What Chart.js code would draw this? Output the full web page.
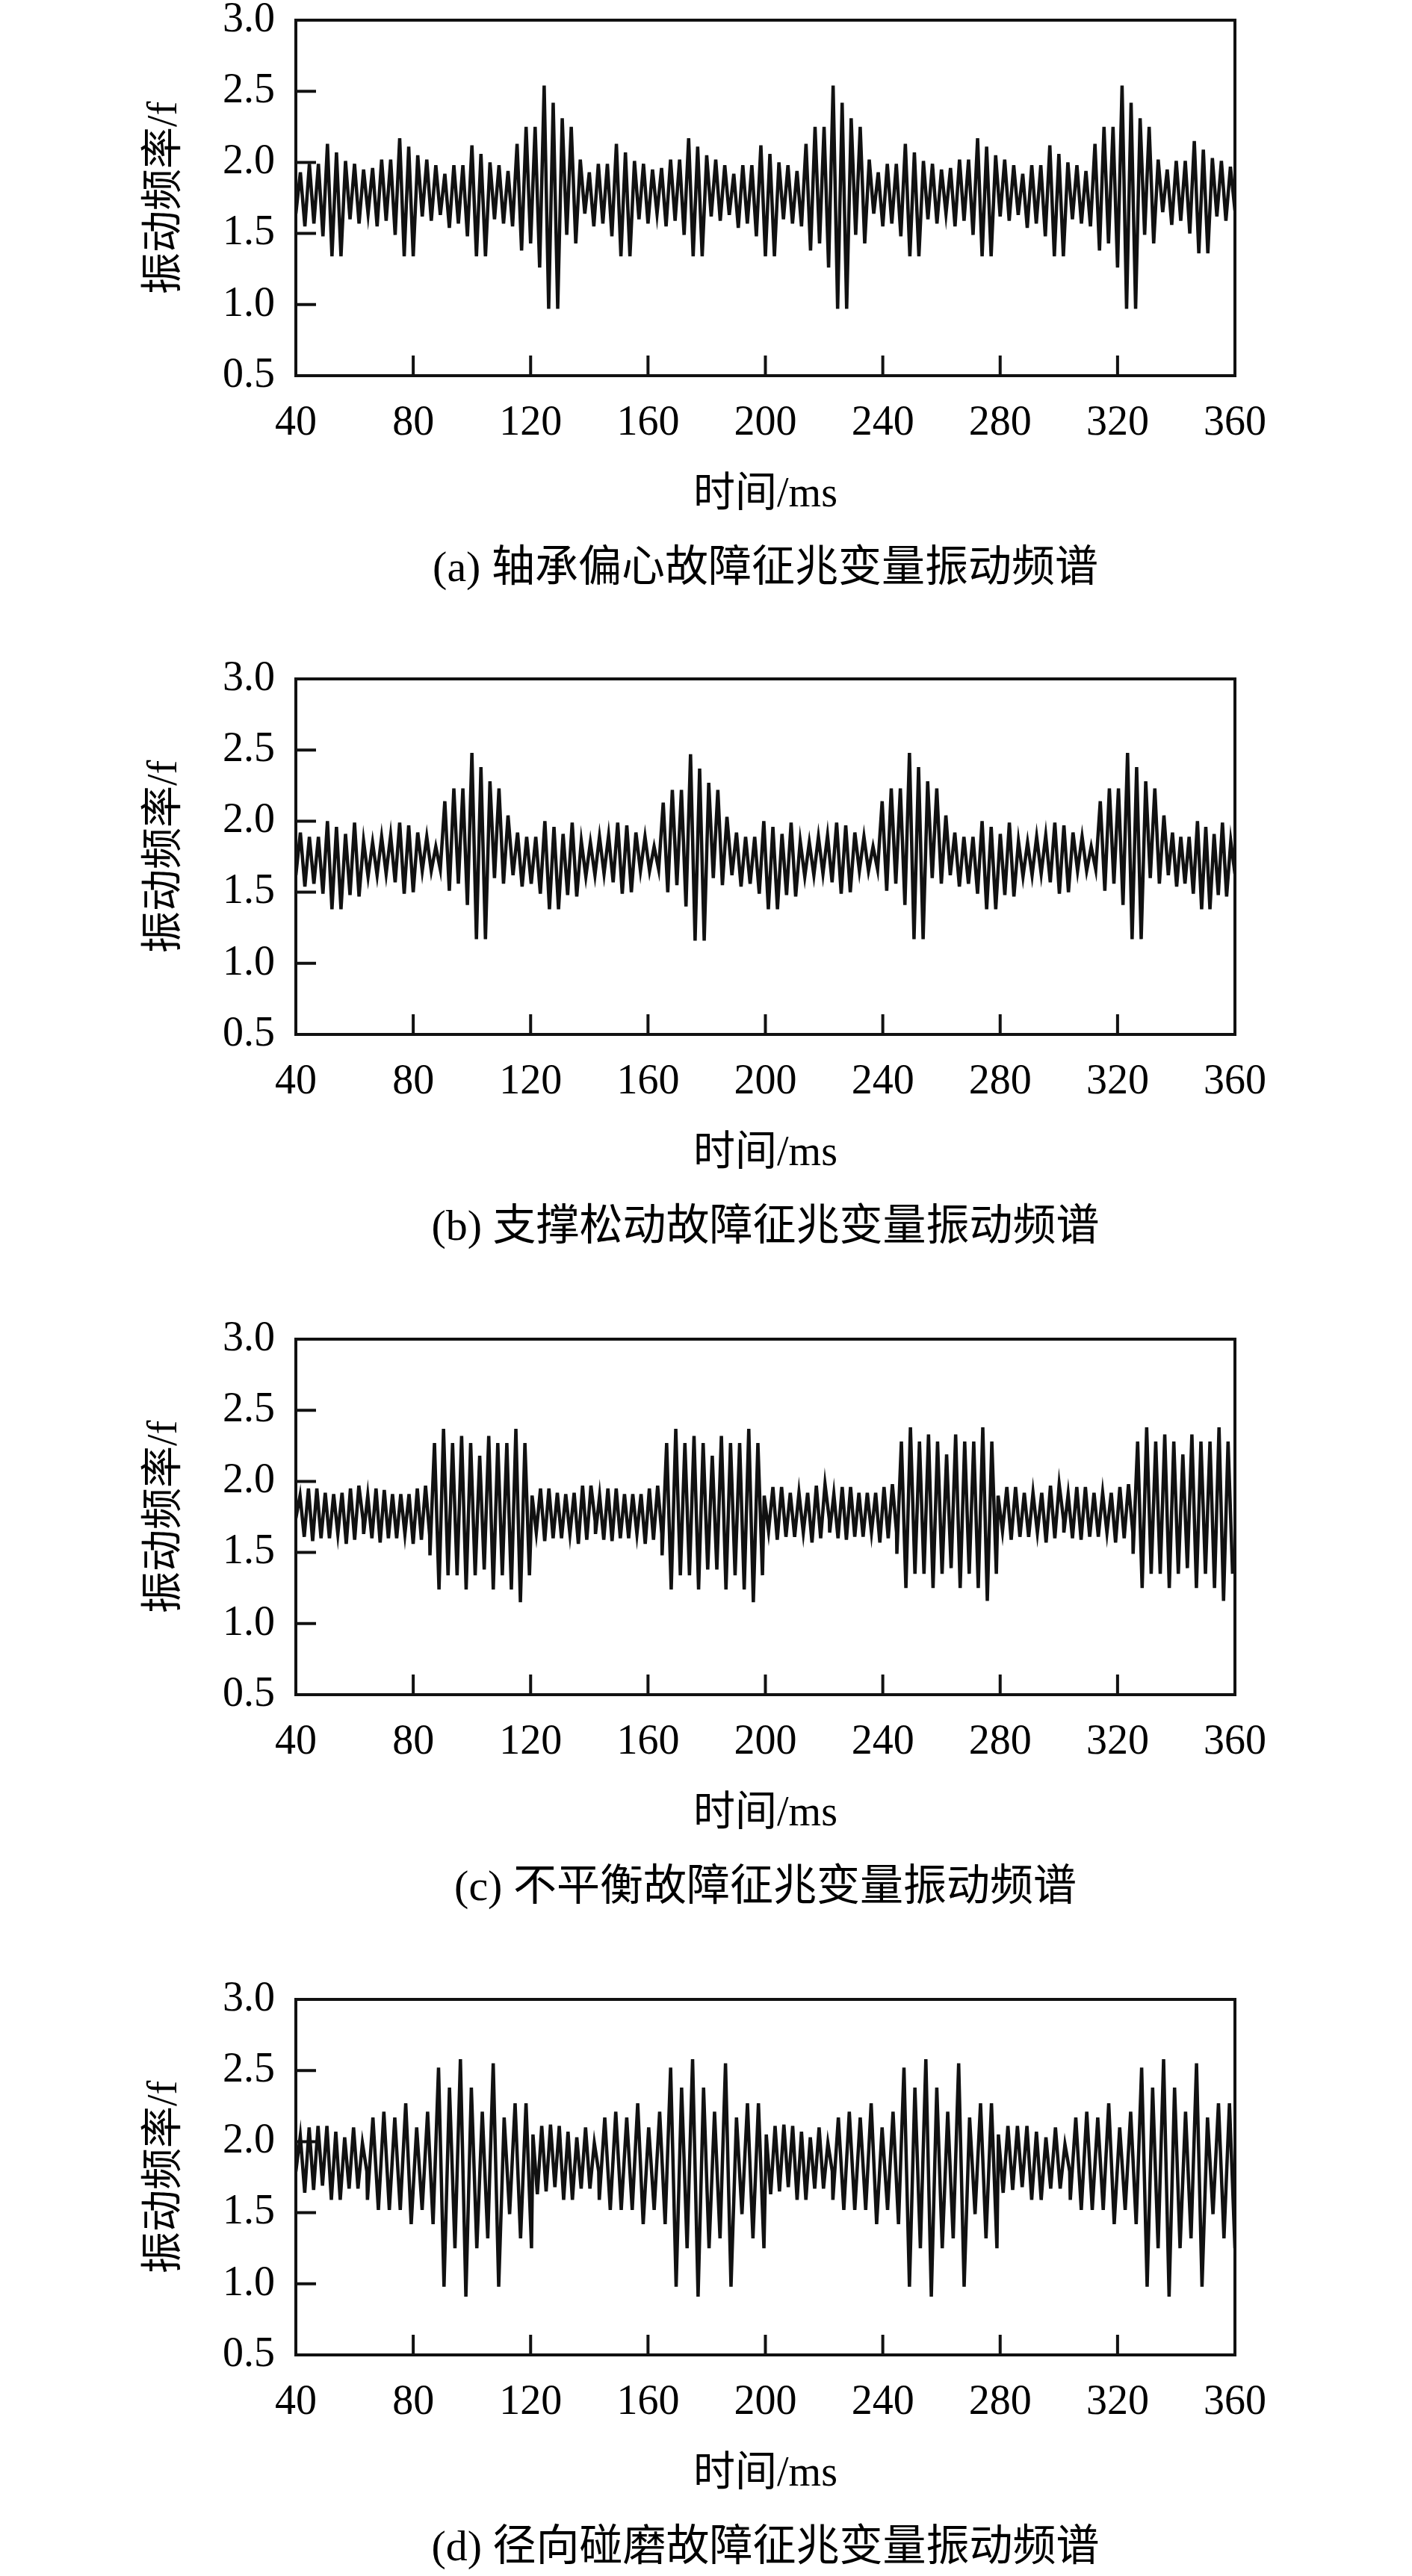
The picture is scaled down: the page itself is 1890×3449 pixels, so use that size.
<!DOCTYPE html>
<html lang="zh">
<head>
<meta charset="utf-8">
<title>故障征兆变量振动频谱</title>
<script src="https://cdn.jsdelivr.net/npm/chart.js@4.4.1/dist/chart.umd.min.js"></script>
<style>
  html, body { margin: 0; padding: 0; background: #fff; }
  body { width: 1890px; height: 3449px; position: relative; overflow: hidden; }
  .panel { position: absolute; left: 0; width: 1890px; height: 800px; }
  .panel canvas { display: block; }
</style>
</head>
<body>
<div class="panel" style="top:0px"><canvas id="chartA" width="1890" height="800"></canvas></div>
<div class="panel" style="top:882px"><canvas id="chartB" width="1890" height="800"></canvas></div>
<div class="panel" style="top:1766px"><canvas id="chartC" width="1890" height="800"></canvas></div>
<div class="panel" style="top:2650px"><canvas id="chartD" width="1890" height="800"></canvas></div>
<script>
"use strict";

// 目盛り
const xTicks = [40, 80, 120, 160, 200, 240, 280, 320, 360];
const yTicks = [0.5, 1.0, 1.5, 2.0, 2.5, 3.0];
const xTitle = '时间/ms';
const yTitle = '振动频率/f';
const captions = [
    '(a) 轴承偏心故障征兆变量振动频谱',
    '(b) 支撑松动故障征兆变量振动频谱',
    '(c) 不平衡故障征兆变量振动频谱',
    '(d) 径向碰磨故障征兆变量振动频谱'
];

// (a) 轴承偏心
const aVals = [
    1.64,1.93,1.55,1.99,1.57,1.99,1.48,2.13,1.34,2.07,1.34,2.01,1.60,1.99,1.57,1.95,
    1.64,1.96,1.55,2.02,1.59,2.02,1.49,2.17,1.34,2.11,1.34,2.05,1.62,2.02,1.59,1.98,
    1.63,1.92,1.54,1.98,1.57,1.98,1.48,2.12,1.34,2.06,1.34,2.00,1.60,1.98,1.57,1.94,
    1.55,2.13,1.38,2.25,1.43,2.25,1.26,2.54,0.97,2.42,0.97,2.31,1.49,2.25,1.43,2.02,
    1.64,1.93,1.55,1.99,1.57,1.99,1.48,2.13,1.34,2.07,1.34,2.01,1.60,1.99,1.57,1.95,
    1.64,1.96,1.55,2.02,1.59,2.02,1.49,2.17,1.34,2.11,1.34,2.05,1.62,2.02,1.59,1.98,
    1.63,1.92,1.54,1.98,1.57,1.98,1.48,2.12,1.34,2.06,1.34,2.00,1.60,1.98,1.57,1.94,
    1.55,2.13,1.38,2.25,1.43,2.25,1.26,2.54,0.97,2.42,0.97,2.31,1.49,2.25,1.43,2.02,
    1.64,1.93,1.55,1.99,1.57,1.99,1.48,2.13,1.34,2.07,1.34,2.01,1.60,1.99,1.57,1.95,
    1.64,1.96,1.55,2.02,1.59,2.02,1.49,2.17,1.34,2.11,1.34,2.05,1.62,2.02,1.59,1.98,
    1.63,1.92,1.54,1.98,1.57,1.98,1.48,2.12,1.34,2.06,1.34,2.00,1.60,1.98,1.57,1.94,
    1.55,2.13,1.38,2.25,1.43,2.25,1.26,2.54,0.97,2.42,0.97,2.31,1.49,2.25,1.43,2.02,
    1.65,1.95,1.56,2.01,1.59,2.01,1.50,2.15,1.36,2.09,1.36,2.03,1.62,2.01,1.59,1.97,1.66
];
const aSizes = [209];
const aSpans = [[40, 360]];

// (b) 支撑松动
const bVals = [
    1.62,1.92,1.54,1.89,1.56,1.89,1.49,2.00,1.38,1.96,1.38,1.91,1.48,1.99,1.47,1.86,
    1.61,1.85,1.62,1.89,1.63,1.90,1.57,1.99,1.49,1.97,1.50,1.92,1.65,1.89,1.65,1.82,
    1.66,2.14,1.51,2.23,1.56,2.23,1.41,2.48,1.17,2.38,1.17,2.28,1.60,2.23,1.56,2.04,
    1.62,1.92,1.54,1.89,1.56,1.89,1.49,2.00,1.38,1.96,1.38,1.91,1.48,1.99,1.47,1.86,
    1.61,1.85,1.62,1.89,1.63,1.90,1.57,1.99,1.49,1.97,1.50,1.92,1.65,1.89,1.65,1.82,
    1.66,2.13,1.50,2.22,1.55,2.22,1.40,2.47,1.16,2.37,1.16,2.27,1.60,2.22,1.55,2.03,
    1.62,1.92,1.54,1.89,1.56,1.89,1.49,2.00,1.38,1.96,1.38,1.91,1.48,1.99,1.47,1.86,
    1.61,1.85,1.62,1.89,1.63,1.90,1.57,1.99,1.49,1.97,1.50,1.92,1.65,1.89,1.65,1.82,
    1.66,2.14,1.51,2.23,1.56,2.23,1.41,2.48,1.17,2.38,1.17,2.28,1.60,2.23,1.56,2.04,
    1.62,1.92,1.54,1.89,1.56,1.89,1.49,2.00,1.38,1.96,1.38,1.91,1.48,1.99,1.47,1.86,
    1.61,1.85,1.62,1.89,1.63,1.90,1.57,1.99,1.49,1.97,1.50,1.92,1.65,1.89,1.65,1.82,
    1.66,2.14,1.51,2.23,1.56,2.23,1.41,2.48,1.17,2.38,1.17,2.28,1.60,2.23,1.56,2.04,
    1.62,1.92,1.54,1.89,1.56,1.89,1.49,2.00,1.38,1.96,1.38,1.91,1.48,1.99,1.47,1.86,1.63
];
const bSizes = [48, 48, 48, 48, 17];
const bSpans = [[40, 112.3], [114.0, 186.9], [188.6, 261.5], [263.0, 335.8], [337.3, 360]];

// (c) 不平衡
const cVals = [
    1.74,1.90,1.61,1.95,1.58,1.95,1.60,1.92,1.60,1.91,1.63,1.92,1.56,1.95,1.59,1.97,1.73,
    1.63,1.90,1.60,1.95,1.57,1.94,1.60,1.91,1.60,1.91,1.63,1.91,1.56,1.95,1.59,1.97,1.62,
    1.48,2.27,1.24,2.37,1.34,2.27,1.34,2.32,1.24,2.27,1.34,2.18,1.38,2.32,1.24,2.27,1.34,2.27,1.24,2.37,1.15,2.27,1.34,
    1.90,1.64,1.95,1.58,1.95,1.60,1.92,1.60,1.91,1.63,1.92,1.56,1.97,1.59,1.97,1.72,
    1.63,1.90,1.59,1.95,1.58,1.95,1.60,1.91,1.60,1.91,1.63,1.91,1.56,1.95,1.59,1.97,1.63,
    1.48,2.27,1.24,2.37,1.34,2.27,1.34,2.32,1.24,2.27,1.38,2.18,1.38,2.32,1.24,2.27,1.34,2.27,1.24,2.37,1.15,2.27,1.34,
    1.90,1.65,1.96,1.59,1.96,1.61,1.92,1.61,1.92,1.64,1.92,1.57,1.97,1.60,1.98,1.73,
    1.64,1.91,1.60,1.96,1.59,1.96,1.61,1.92,1.61,1.92,1.64,1.92,1.57,1.96,1.60,1.98,1.64,
    1.49,2.28,1.25,2.38,1.35,2.28,1.35,2.33,1.25,2.28,1.35,2.19,1.39,2.33,1.25,2.28,1.35,2.28,1.25,2.38,1.16,2.28,1.35,
    1.90,1.65,1.96,1.59,1.96,1.61,1.92,1.61,1.92,1.64,1.92,1.57,1.97,1.60,1.98,1.73,
    1.64,1.91,1.60,1.96,1.59,1.96,1.61,1.92,1.61,1.92,1.64,1.92,1.57,1.96,1.60,1.98,1.64,
    1.49,2.28,1.25,2.38,1.35,2.28,1.35,2.33,1.25,2.28,1.35,2.19,1.39,2.33,1.25,2.28,1.35,2.28,1.25,2.38,1.16,2.28,1.35
];
const cSizes = [17, 17, 23, 16, 17, 23, 16, 17, 23, 16, 17, 23];
const cSpans = [[40, 62.9], [63.1, 85.6], [85.7, 119.6],
                [120.5, 142.0], [142.1, 164.7], [164.8, 199.0],
                [199.6, 221.8], [221.9, 244.7], [244.8, 278.7],
                [279.3, 301.6], [301.7, 325.2], [325.3, 359.2]];

// (d) 径向碰磨
const dVals = [
    1.79,2.04,1.64,2.10,1.66,2.11,1.69,2.11,1.59,2.07,1.59,2.03,1.67,2.10,1.67,1.99,1.79,
    1.59,2.17,1.52,2.21,1.52,2.17,1.52,2.27,1.42,2.10,1.52,2.21,1.42,2.52,0.98,2.38,
    1.25,2.58,0.91,2.38,1.25,2.21,1.32,2.55,0.98,2.17,1.49,2.27,1.32,2.27,1.25,
    2.05,1.63,2.11,1.65,2.12,1.68,2.11,1.59,2.07,1.59,2.03,1.67,2.10,1.67,1.99,1.79,
    1.59,2.17,1.52,2.21,1.52,2.17,1.52,2.27,1.42,2.10,1.52,2.21,1.42,2.52,0.98,2.38,
    1.25,2.58,0.91,2.38,1.25,2.21,1.32,2.55,0.98,2.17,1.49,2.27,1.32,2.27,1.25,
    2.05,1.63,2.11,1.65,2.12,1.68,2.11,1.59,2.07,1.59,2.03,1.67,2.10,1.67,1.99,1.79,
    1.59,2.17,1.52,2.21,1.52,2.17,1.52,2.27,1.42,2.10,1.52,2.21,1.42,2.52,0.98,2.38,
    1.25,2.58,0.91,2.38,1.25,2.21,1.32,2.55,0.98,2.17,1.49,2.27,1.32,2.27,1.25,
    2.05,1.64,2.11,1.66,2.11,1.68,2.11,1.59,2.07,1.59,2.03,1.67,2.10,1.67,1.98,1.79,
    1.59,2.17,1.52,2.21,1.52,2.17,1.52,2.27,1.42,2.10,1.52,2.21,1.42,2.52,0.98,2.38,
    1.25,2.58,0.91,2.38,1.25,2.21,1.32,2.55,0.98,2.17,1.49,2.27,1.32,2.27,1.25
];
const dSizes = [17, 31, 16, 31, 16, 31, 16, 31];
const dSpans = [[40, 64.2], [64.4, 120.3], [120.8, 143.2], [143.4, 199.5],
                [200.3, 222.8], [223.0, 278.9], [279.4, 303.7], [303.9, 360]];

const FONT = '"Liberation Serif", "Times New Roman", "Noto Sans CJK SC", serif';
const INK = '#111';

// 区間ごとに等間隔の時刻を割り当てて点列にする
function toPoints(vals, sizes, spans) {
    const pts = [];
    let k = 0;
    sizes.forEach((n, s) => {
        const [t0, t1] = spans[s];
        for (let j = 0; j < n; j++) {
            pts.push({ x: t0 + (t1 - t0) * j / (n - 1), y: vals[k++] });
        }
    });
    return pts;
}

// 枠と内向きの目盛り線
const framePlugin = {
    id: 'frame',
    afterDatasetsDraw(chart) {
        const { ctx, chartArea: a, scales: { x, y } } = chart;
        ctx.save();
        ctx.strokeStyle = INK;
        ctx.lineWidth = 4;
        ctx.lineCap = 'square';
        ctx.beginPath();
        xTicks.forEach(v => {
            const px = x.getPixelForValue(v);
            ctx.moveTo(px, a.bottom);
            ctx.lineTo(px, a.bottom - 25);
        });
        yTicks.forEach(v => {
            const py = y.getPixelForValue(v);
            ctx.moveTo(a.left, py);
            ctx.lineTo(a.left + 25, py);
        });
        ctx.stroke();
        ctx.strokeRect(a.left, a.top, a.right - a.left, a.bottom - a.top);
        ctx.restore();
    }
};

function create(canvasId, points, caption) {
    const ctx = document.getElementById(canvasId);
    return new Chart(ctx, {
        type: 'line',
        data: {
            datasets: [{
                data: points,
                borderColor: INK,
                borderWidth: 4.5,
                pointRadius: 0,
                tension: 0,
                fill: false
            }]
        },
        options: {
            responsive: false,
            animation: false,
            devicePixelRatio: 1,
            events: [],
            layout: { padding: { left: 0, right: 237, top: 27, bottom: 0 } },
            plugins: {
                legend: { display: false },
                tooltip: { enabled: false },
                title: {
                    display: true,
                    text: caption,
                    position: 'bottom',
                    fullSize: false,
                    color: '#000',
                    font: { family: FONT, size: 58, weight: 'normal', lineHeight: 1.2 },
                    padding: { top: 0, bottom: 2 }
                }
            },
            scales: {
                x: {
                    type: 'linear',
                    min: 40,
                    max: 360,
                    afterBuildTicks: s => { s.ticks = xTicks.map(v => ({ value: v })); },
                    afterFit: s => { s.height = 225.4; s.paddingLeft = 0; s.paddingRight = 0; },
                    ticks: {
                        color: '#000',
                        padding: 31,
                        maxRotation: 0,
                        autoSkip: false,
                        font: { family: FONT, size: 56, lineHeight: 1.2 },
                        callback: v => String(v)
                    },
                    grid: { display: false, drawTicks: false, tickLength: 0 },
                    border: { display: false },
                    title: {
                        display: true,
                        text: xTitle,
                        color: '#000',
                        font: { family: FONT, size: 56, lineHeight: 1.2 },
                        padding: { top: 0, bottom: 32 }
                    }
                },
                y: {
                    type: 'linear',
                    min: 0.5,
                    max: 3.0,
                    afterBuildTicks: s => { s.ticks = yTicks.map(v => ({ value: v })); },
                    afterFit: s => { s.width = 396; s.paddingTop = 0; s.paddingBottom = 0; },
                    ticks: {
                        color: '#000',
                        padding: 28,
                        autoSkip: false,
                        font: { family: FONT, size: 56, lineHeight: 1.2 },
                        callback: v => Number(v).toFixed(1)
                    },
                    grid: { display: false, drawTicks: false, tickLength: 0 },
                    border: { display: false },
                    title: {
                        display: true,
                        text: yTitle,
                        color: '#000',
                        font: { family: FONT, size: 56, lineHeight: 1.2 },
                        padding: { top: 188, bottom: 0 }
                    }
                }
            }
        },
        plugins: [framePlugin]
    });
}

create('chartA', toPoints(aVals, aSizes, aSpans), captions[0]);
create('chartB', toPoints(bVals, bSizes, bSpans), captions[1]);
create('chartC', toPoints(cVals, cSizes, cSpans), captions[2]);
create('chartD', toPoints(dVals, dSizes, dSpans), captions[3]);
</script>
</body>
</html>
